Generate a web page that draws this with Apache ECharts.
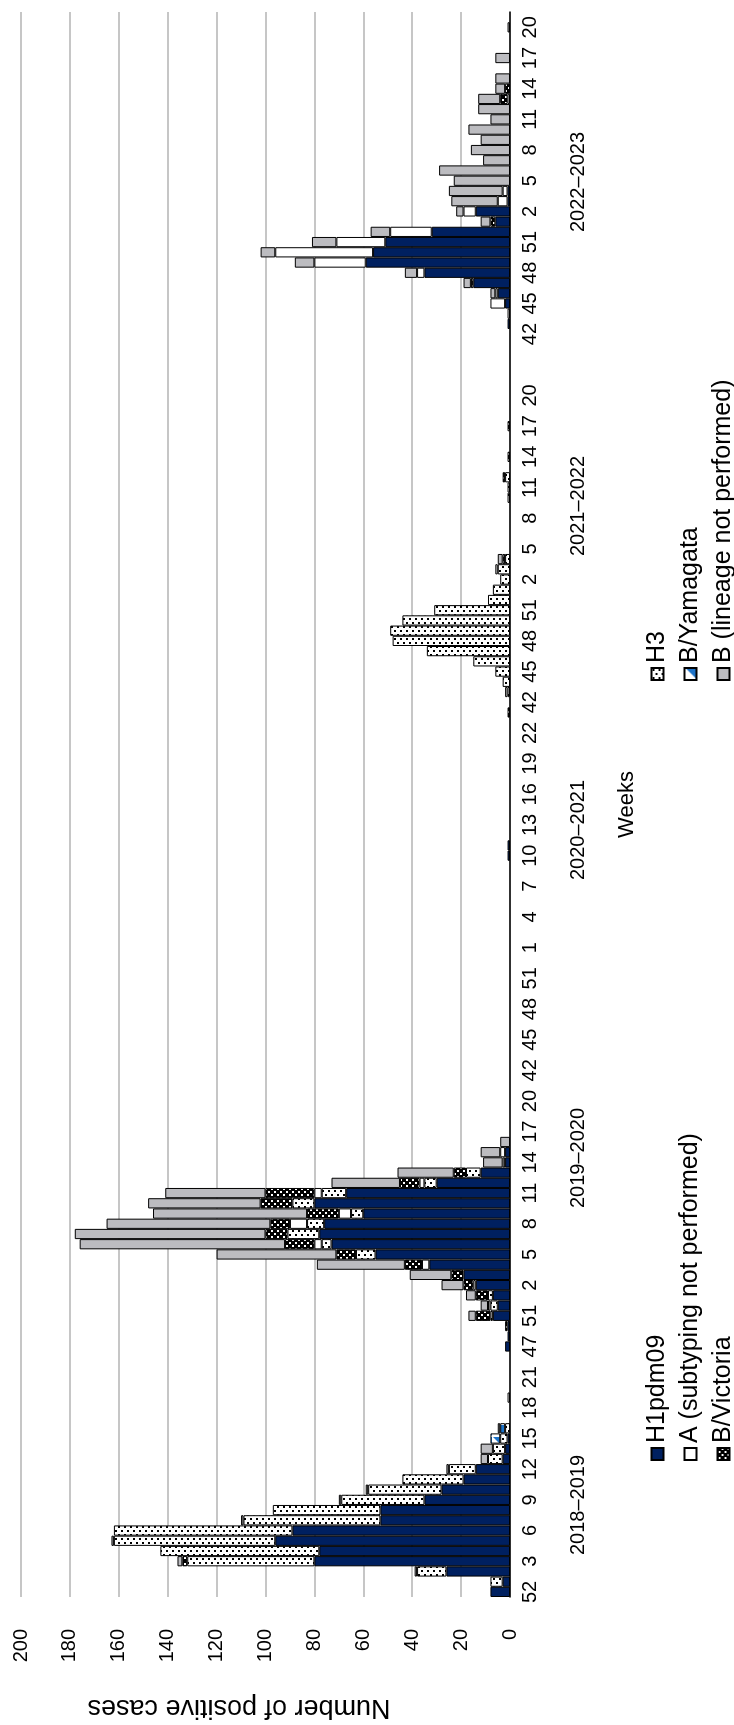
<!DOCTYPE html>
<html>
<head>
<meta charset="utf-8">
<title>Positive influenza cases by week</title>
<script src="https://cdn.jsdelivr.net/npm/echarts@6/dist/echarts.min.js"></script>
<style>
  html, body { margin: 0; padding: 0; background: #fff; }
  .page { position: relative; width: 734px; height: 1725px; overflow: hidden; background: #fff; }
  /* chart is drawn landscape, then turned a quarter turn to the left */
  .chart-layout {
    position: absolute; left: 0; top: 0;
    width: 1725px; height: 734px;
    transform-origin: 0 0;
    transform: translate(0, 1725px) rotate(-90deg);
  }
</style>
</head>
<body>
<div class="page"><div id="chart" class="chart-layout"></div></div>
<script>
// week numbers, one list per season
const weeks1819 = ['52', '1', '2', '3', '4', '5', '6', '7', '8', '9', '10', '11', '12', '13', '14', '15', '16', '17', '18', '19', '20', '21', '22']
const weeks1920 = ['46', '47', '49', '50', '51', '52', '1', '2', '3', '4', '5', '6', '7', '8', '9', '10', '11', '12', '13', '14', '15', '16', '17', '18', '19', '20']
const weeks2021 = ['40', '41', '42', '43', '44', '45', '46', '47', '48', '49', '50', '51', '52', '53', '1', '2', '3', '4', '5', '6', '7', '8', '9', '10', '11', '12', '13', '14', '15', '16', '17', '18', '19', '20', '21', '22']
const weeks2122 = ['40', '41', '42', '43', '44', '45', '46', '47', '48', '49', '50', '51', '52', '1', '2', '3', '4', '5', '6', '7', '8', '9', '10', '11', '12', '13', '14', '15', '16', '17', '18', '19', '20', '21', '22', '']
const weeks2223 = ['40', '41', '42', '43', '44', '45', '46', '47', '48', '49', '50', '51', '52', '1', '2', '3', '4', '5', '6', '7', '8', '9', '10', '11', '12', '13', '14', '15', '16', '17', '18', '19', '20', '21']
const weeks = [].concat(weeks1819, weeks1920, weeks2021, weeks2122, weeks2223)

const seasons = ['2018–2019', '2019–2020', '2020–2021', '2021–2022', '2022–2023']

// cases per week (seasons 18-19 | 19-20 | 20-21 | 21-22 | 22-23)
const h1pdm09 = [
  8, 3, 26, 80, 78, 96, 89, 53, 53, 35, 28, 19, 14, 3, 2, 1, 0, 0, 0, 0, 0, 0, 0,
  0, 2, 1, 1, 7, 5, 7, 14, 19, 33, 55, 73, 78, 76, 60, 80, 67, 30, 12, 2, 2, 0, 0, 0, 0, 0,
  0, 0, 0, 0, 0, 0, 0, 0, 0, 0, 0, 0, 0, 0, 0, 0, 0, 0, 0, 0, 0, 0, 0, 1, 1, 0, 0, 0, 0, 0, 0, 0, 0, 0, 0, 0,
  0, 0, 0, 0, 0, 0, 0, 0, 0, 0, 0, 0, 0, 0, 0, 0, 0, 0, 0, 0, 0, 0, 0, 0, 0, 0, 0, 0, 0, 0, 0, 0, 0, 0, 0, 0,
  0, 0, 0, 1, 0, 2, 5, 15, 35, 59, 56, 51, 32, 6, 14, 1, 1, 0, 0, 0, 0, 0, 0, 0, 0, 0, 0, 0, 0, 0, 0, 0, 0, 0
]
const h3 = [
  0, 5, 12, 52, 65, 66, 73, 56, 44, 34, 30, 25, 11, 6, 5, 3, 2, 0, 0, 0, 0, 0, 0,
  0, 0, 0, 0, 1, 3, 2, 0, 0, 0, 8, 4, 13, 7, 5, 9, 10, 5, 6, 0, 0, 0, 0, 0, 0, 0,
  0, 0, 0, 0, 0, 0, 0, 0, 0, 0, 0, 0, 0, 0, 0, 0, 0, 0, 0, 0, 0, 0, 0, 0, 0, 0, 0, 0, 0, 0, 0, 0, 0, 0, 0, 0,
  0, 0, 0, 1, 3, 6, 15, 34, 48, 49, 44, 31, 9, 7, 4, 5, 2, 0, 0, 0, 0, 0, 1, 1, 2, 0, 0, 0, 0, 0, 0, 0, 0, 0, 0, 0,
  0, 0, 0, 0, 0, 0, 0, 0, 0, 0, 0, 0, 0, 0, 0, 0, 0, 0, 0, 0, 0, 0, 0, 0, 0, 0, 0, 0, 0, 0, 0, 0, 0, 0
]
const aNotSubtyped = [
  0, 0, 0, 0, 0, 0, 0, 0, 0, 0, 0, 0, 0, 0, 0, 0, 0, 0, 0, 1, 0, 0, 0,
  0, 0, 0, 0, 0, 1, 0, 1, 0, 3, 0, 3, 0, 7, 5, 0, 3, 2, 0, 1, 2, 0, 0, 0, 0, 0,
  0, 0, 0, 0, 0, 0, 0, 0, 0, 0, 0, 0, 0, 0, 0, 0, 0, 0, 0, 0, 0, 0, 0, 0, 0, 0, 0, 0, 0, 0, 0, 0, 0, 0, 0, 0,
  0, 0, 0, 1, 0, 0, 0, 0, 0, 0, 0, 0, 0, 0, 0, 1, 0, 0, 0, 0, 0, 0, 0, 0, 0, 0, 0, 0, 0, 0, 0, 0, 0, 0, 0, 0,
  0, 0, 0, 0, 1, 6, 1, 0, 3, 21, 40, 20, 17, 0, 5, 4, 2, 0, 0, 0, 0, 0, 0, 0, 0, 1, 0, 0, 0, 0, 0, 0, 0, 0
]
const bYamagata = [
  0, 0, 0, 0, 0, 0, 0, 0, 0, 0, 0, 0, 0, 0, 0, 4, 2, 0, 0, 0, 0, 0, 0,
  0, 0, 0, 0, 0, 0, 0, 0, 0, 0, 0, 0, 0, 0, 0, 0, 0, 0, 0, 0, 0, 0, 0, 0, 0, 0,
  0, 0, 0, 0, 0, 0, 0, 0, 0, 0, 0, 0, 0, 0, 0, 0, 0, 0, 0, 0, 0, 0, 0, 0, 0, 0, 0, 0, 0, 0, 0, 0, 0, 0, 0, 0,
  0, 0, 0, 0, 0, 0, 0, 0, 0, 0, 0, 0, 0, 0, 0, 0, 0, 0, 0, 0, 0, 0, 0, 0, 0, 0, 0, 0, 0, 0, 0, 0, 0, 0, 0, 0,
  0, 0, 0, 0, 0, 0, 0, 0, 0, 0, 0, 0, 0, 0, 0, 0, 0, 0, 0, 0, 0, 0, 0, 0, 0, 0, 0, 0, 0, 0, 0, 0, 0, 0
]
const bVictoria = [
  0, 0, 0, 2, 0, 0, 0, 0, 0, 0, 0, 0, 0, 0, 0, 0, 0, 0, 0, 0, 0, 0, 0,
  0, 0, 0, 1, 6, 0, 5, 4, 5, 7, 8, 12, 9, 8, 13, 13, 20, 8, 5, 0, 0, 0, 0, 0, 0, 0,
  0, 0, 0, 0, 0, 0, 0, 0, 0, 0, 0, 0, 0, 0, 0, 0, 0, 0, 0, 0, 0, 0, 0, 0, 0, 0, 0, 0, 0, 0, 0, 0, 0, 0, 0, 0,
  0, 1, 0, 0, 0, 0, 0, 0, 0, 0, 0, 0, 0, 0, 0, 0, 1, 0, 0, 0, 0, 0, 0, 0, 1, 0, 1, 0, 0, 1, 0, 0, 0, 0, 0, 0,
  0, 0, 0, 0, 0, 0, 0, 1, 0, 0, 0, 0, 0, 2, 0, 0, 0, 0, 0, 0, 0, 0, 0, 0, 0, 3, 2, 0, 0, 0, 0, 0, 0, 0
]
const bNoLineage = [
  0, 0, 1, 2, 0, 1, 0, 1, 0, 1, 1, 0, 1, 3, 5, 0, 1, 0, 0, 0, 0, 0, 0,
  0, 0, 0, 0, 3, 3, 4, 9, 17, 36, 49, 84, 78, 67, 63, 46, 41, 28, 23, 8, 8, 4, 0, 0, 0, 0,
  0, 0, 0, 0, 0, 0, 0, 0, 0, 0, 0, 0, 0, 0, 0, 0, 0, 0, 0, 0, 0, 0, 0, 0, 0, 0, 0, 0, 0, 0, 0, 0, 0, 0, 0, 0,
  0, 0, 0, 0, 0, 0, 0, 0, 0, 0, 0, 0, 0, 0, 0, 0, 2, 0, 0, 0, 0, 0, 0, 0, 0, 0, 0, 0, 0, 0, 0, 0, 0, 0, 0, 0,
  0, 0, 0, 0, 0, 0, 2, 3, 5, 8, 6, 10, 8, 4, 3, 19, 22, 23, 29, 11, 16, 12, 17, 8, 13, 9, 4, 6, 0, 6, 0, 0, 1, 0
]

const yTicks = { min: 0, max: 200, step: 20 }

const FONT = '"Liberation Sans", Arial, sans-serif'

// small fill tiles like the excel patterns
function tile(w, h, paint) {
  const c = document.createElement('canvas')
  c.width = w
  c.height = h
  paint(c.getContext('2d'))
  return { image: c, repeat: 'repeat' }
}
const dotFill = tile(8, 6, g => {
  g.fillStyle = '#fff'; g.fillRect(0, 0, 8, 6)
  g.fillStyle = '#000'; g.fillRect(1, 1, 2, 2); g.fillRect(5, 4, 2, 2)
})
const checkFill = tile(6, 6, g => {
  g.fillStyle = '#000'; g.fillRect(0, 0, 6, 6)
  g.fillStyle = '#fff'; g.fillRect(1, 1, 2, 2); g.fillRect(4, 4, 2, 2)
})
const diagFill = tile(12, 12, g => {
  g.fillStyle = '#fff'; g.fillRect(0, 0, 12, 12)
  g.fillStyle = '#1c73c9'
  g.beginPath(); g.moveTo(12, 1); g.lineTo(12, 12); g.lineTo(1, 12); g.closePath(); g.fill()
})

const chart = echarts.init(document.getElementById('chart'))

function barSeries(name, values, color) {
  return {
    name: name,
    type: 'bar',
    stack: 'cases',
    barCategoryGap: '0%',
    data: values.map(v => (v === 0 ? null : v)),
    itemStyle: { color: color, borderColor: '#000', borderWidth: 1 }
  }
}

const seasonX = [220, 567, 895, 1219, 1543]

const legendBase = {
  orient: 'vertical', top: 645, height: 100, padding: 0,
  icon: 'rect', itemWidth: 12, itemHeight: 12, itemGap: 8,
  textStyle: { fontSize: 25, color: '#000', fontFamily: FONT }
}

const option = {
  animation: false,
  backgroundColor: '#fff',
  textStyle: { fontFamily: FONT, color: '#000' },
  grid: { left: 128, right: 12, top: 21, bottom: 224 },
  legend: [
    Object.assign({}, legendBase, {
      data: ['H1pdm09', 'A (subtyping not performed)', 'B/Victoria'],
      left: 264
    }),
    Object.assign({}, legendBase, {
      data: ['H3', 'B/Yamagata', 'B (lineage not performed)'],
      left: 1044
    })
  ],
  xAxis: {
    type: 'category',
    data: weeks,
    name: 'Weeks',
    nameLocation: 'middle',
    nameGap: 106,
    nameTextStyle: { fontSize: 22, color: '#000', fontFamily: FONT },
    axisLine: { lineStyle: { color: '#000', width: 1.5 } },
    axisTick: { interval: 0, length: 7, lineStyle: { color: '#000', width: 1 } },
    axisLabel: { interval: 2, fontSize: 20, color: '#000', margin: 10, fontFamily: FONT }
  },
  yAxis: {
    type: 'value',
    min: yTicks.min,
    max: yTicks.max,
    interval: yTicks.step,
    axisLine: { show: false },
    axisTick: { show: false },
    splitLine: { lineStyle: { color: '#b3b3b3', width: 1.5 } },
    axisLabel: { fontSize: 20, color: '#000', margin: 32, fontFamily: FONT }
  },
  graphic: seasons.map((s, i) => ({
    type: 'text',
    x: seasonX[i],
    y: 578,
    style: {
      text: s, fontSize: 20, fontFamily: FONT, fill: '#000',
      align: 'center', verticalAlign: 'middle', textAlign: 'center', textVerticalAlign: 'middle'
    }
  })).concat([{
    type: 'text',
    x: 18,
    y: 239,
    rotation: Math.PI / 2,
    style: {
      text: 'Number of positive cases', fontSize: 27, fontFamily: FONT, fill: '#000',
      align: 'center', verticalAlign: 'middle', textAlign: 'center', textVerticalAlign: 'middle'
    }
  }]),
  series: [
    barSeries('H1pdm09', h1pdm09, '#002060'),
    barSeries('H3', h3, dotFill),
    barSeries('A (subtyping not performed)', aNotSubtyped, '#ffffff'),
    barSeries('B/Yamagata', bYamagata, diagFill),
    barSeries('B/Victoria', bVictoria, checkFill),
    barSeries('B (lineage not performed)', bNoLineage, '#bcbcc0')
  ]
}

chart.setOption(option)
</script>
</body>
</html>
